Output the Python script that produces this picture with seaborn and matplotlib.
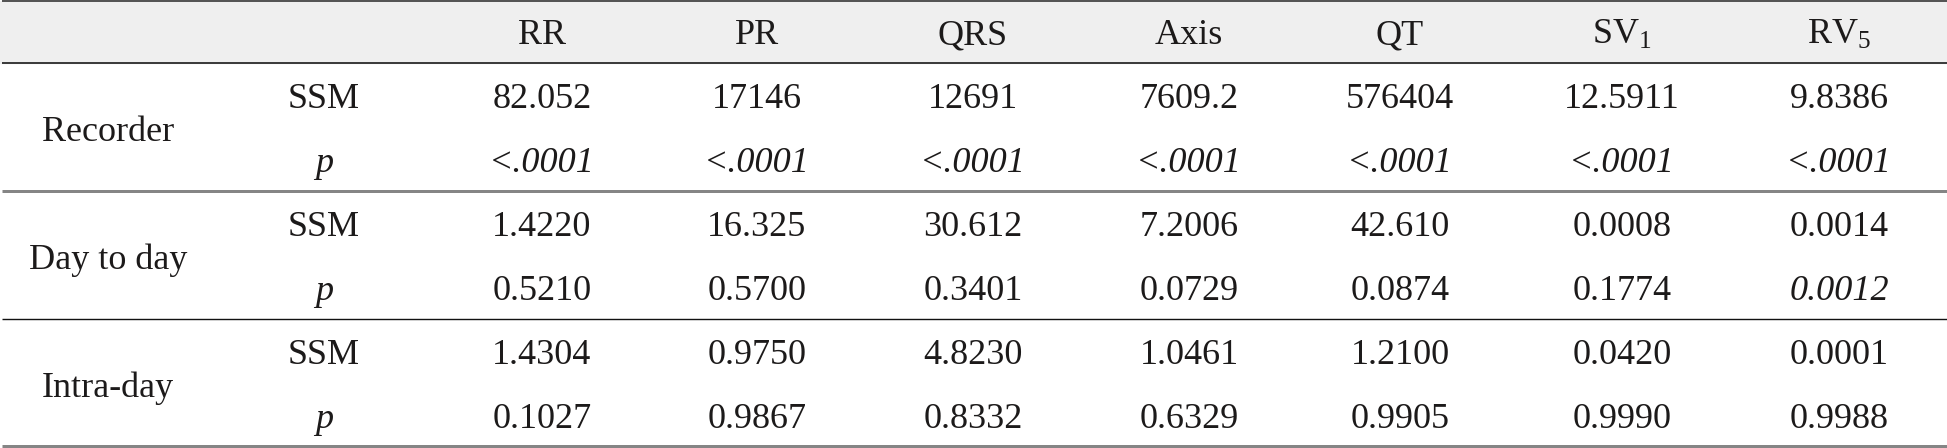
import matplotlib
matplotlib.use("Agg")
import matplotlib.pyplot as plt
import seaborn as sns
import pandas as pd

# table content
columns = ["RR", "PR", "QRS", "Axis", "QT", "SV$_\\mathrm{1}$", "RV$_\\mathrm{5}$"]
groups = ["Recorder", "Day to day", "Intra-day"]
stats = ["SSM", "p"]

recorder_ssm = ["82.052", "17146", "12691", "7609.2", "576404", "12.5911", "9.8386"]
recorder_p = ["<.0001", "<.0001", "<.0001", "<.0001", "<.0001", "<.0001", "<.0001"]
day_ssm = ["1.4220", "16.325", "30.612", "7.2006", "42.610", "0.0008", "0.0014"]
day_p = ["0.5210", "0.5700", "0.3401", "0.0729", "0.0874", "0.1774", "0.0012"]
intra_ssm = ["1.4304", "0.9750", "4.8230", "1.0461", "1.2100", "0.0420", "0.0001"]
intra_p = ["0.1027", "0.9867", "0.8332", "0.6329", "0.9905", "0.9990", "0.9988"]

# cells shown in italic
italic_cells = {("Day to day", "p", 6)}

rows = [recorder_ssm, recorder_p, day_ssm, day_p, intra_ssm, intra_p]
df = pd.DataFrame(rows, columns=columns)
df.insert(0, "stat", stats * 3)
df.insert(0, "group", [g for g in groups for _ in stats])

sns.set_theme(style="white")
plt.rcParams["font.family"] = ["Liberation Serif", "DejaVu Serif"]
plt.rcParams["mathtext.fontset"] = "custom"
plt.rcParams["mathtext.rm"] = "Liberation Serif"
plt.rcParams["mathtext.it"] = "Liberation Serif:italic"

W, H = 1947, 448
fig = plt.figure(figsize=(W / 100, H / 100), dpi=100)
ax = fig.add_axes([0, 0, 1, 1])
ax.set_xlim(0, W)
ax.set_ylim(H, 0)
ax.axis("off")

txt_color = "#1c1a1a"
fs = 26
px = 0.72  # points per pixel at 100 dpi

label_x = 108
stat_x = 324
col_x = [542, 757, 973, 1189, 1400, 1622, 1839]
row_h = 64
head_top, head_bot = 1, 63

# header band and rules
ax.axhspan(head_top, head_bot, color="#efefef", zorder=0)
ax.hlines(head_top, 2, W, color="#555555", lw=2 * px)
ax.hlines(head_bot, 2, W, color="#111111", lw=1.6 * px)
ax.hlines(head_bot + 2 * row_h + 0.5, 2, W, color="#858585", lw=3 * px)
ax.hlines(head_bot + 4 * row_h, 2, W, color="#111111", lw=1.4 * px)
ax.hlines(H - 1.5, 2, W, color="#858585", lw=3 * px)

base_off = 12
for j, c in enumerate(columns):
    ax.text(col_x[j], 32 + base_off, c, ha="center", va="baseline",
            fontsize=fs, color=txt_color)

for i, r in df.iterrows():
    yc = head_bot + row_h * i + row_h / 2 + 1
    if i % 2 == 0:
        gy = head_bot + row_h * (i + 1) + 2
        ax.text(label_x, gy + base_off, r["group"], ha="center", va="baseline",
                fontsize=fs, color=txt_color)
    ax.text(stat_x, yc + base_off, r["stat"], ha="center", va="baseline",
            fontsize=fs, color=txt_color,
            style="italic" if r["stat"] == "p" else "normal")
    for j, c in enumerate(columns):
        val = r[c]
        it = val.startswith("<") or (r["group"], r["stat"], j) in italic_cells
        ax.text(col_x[j], yc + base_off, val, ha="center", va="baseline",
                fontsize=fs, color=txt_color,
                style="italic" if it else "normal")

fig.savefig("out.png", dpi=100)
